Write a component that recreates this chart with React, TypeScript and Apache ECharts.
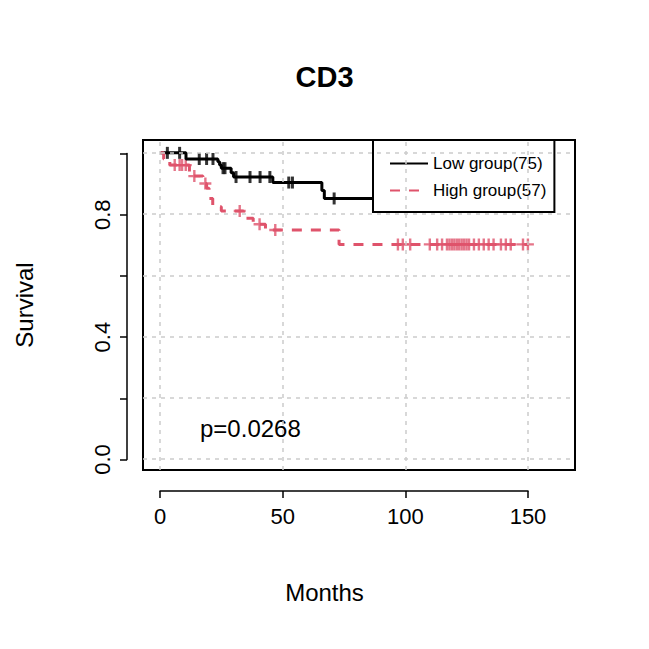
import React, { useEffect, useRef } from "react";
import * as echarts from "echarts";

// step points: [months, survival after the drop]
const lowSteps: number[][] = [
  [0, 1], [10.6, 0.98], [23.6, 0.971], [24.3, 0.96], [25, 0.95], [29, 0.935],
  [30, 0.921], [46, 0.903], [66, 0.877], [67, 0.851], [150, 0.851],
];
const highSteps: number[][] = [
  [0, 1], [1.5, 0.98], [4, 0.96], [12, 0.935], [13.5, 0.924], [17.5, 0.9],
  [19, 0.884], [20, 0.851], [21.5, 0.824], [25, 0.81], [34, 0.786],
  [38, 0.767], [43, 0.748], [73, 0.701], [150, 0.701],
];
const lowCensor = [3, 8, 16, 19, 21.6, 25.7, 26.5, 31, 36.7, 40.8, 44.8, 52.5, 54, 71];
const highCensor = [
  6, 8, 9, 10.5, 14, 18.5, 32.5, 40.6, 47, 97, 99, 102, 110, 113, 115, 117, 118, 119,
  120, 121, 122, 123, 124, 125, 126, 128, 130, 132, 134, 136, 139, 141, 143, 148, 150,
];
const xTicks = [0, 50, 100, 150];
const yLabels = ["0.0", "0.4", "0.8"];

const survAt = (steps: number[][], t: number) => {
  let s = steps[0][1];
  for (const [x, y] of steps) if (x <= t) s = y;
  return s;
};

const FONT = "Liberation Sans, Arial, sans-serif";
const PLUS = "path://M-1,-5h2v4h4v2h-4v4h-2v-4h-4v-2h4z";
const BAR = "path://M-1.2,-5h2.4v10h-2.4z";

const App: React.FC = () => {
  const ref = useRef<HTMLDivElement | null>(null);

  useEffect(() => {
    if (!ref.current) return;
    const chart = echarts.init(ref.current, null, { renderer: "svg" });
    const dash = { type: [4, 5] as number[], color: "#cccccc", width: 1.5 };
    chart.setOption({
      animation: false,
      backgroundColor: "#ffffff",
      title: {
        text: "CD3", left: "center", top: 57,
        textStyle: { fontFamily: FONT, fontSize: 29, fontWeight: "bold", color: "#000" },
      },
      legend: {
        left: 373, top: 140, orient: "vertical", itemGap: 10,
        padding: [15, 8, 13, 16], itemWidth: 38, itemHeight: 14,
        borderColor: "#000", borderWidth: 2, backgroundColor: "#fff",
        itemStyle: { opacity: 0 },
        textStyle: { fontFamily: FONT, fontSize: 17, color: "#000" },
        data: ["Low group(75)", "High group(57)"],
      },
      grid: [
        { left: 143, top: 140, width: 432, height: 330, show: true, borderColor: "#000", borderWidth: 2 },
        { left: 160, top: 490, width: 368, height: 1 },
        { left: 127, top: 153.5, width: 1, height: 306 },
      ],
      xAxis: [
        {
          gridIndex: 0, type: "value", min: -6.93, max: 169.2,
          axisLine: { show: false }, axisTick: { show: false }, axisLabel: { show: false },
          splitLine: { show: false },
        },
        {
          gridIndex: 1, type: "value", min: 0, max: 150, interval: 50,
          axisLine: { lineStyle: { color: "#000", width: 1.5 } },
          axisTick: { length: 7, lineStyle: { color: "#000", width: 1.5 } },
          axisLabel: { fontFamily: FONT, fontSize: 22, color: "#000", margin: 14,
            formatter: (v: number) => (xTicks.includes(v) ? String(v) : "") },
          splitLine: { show: false },
        },
        { gridIndex: 2, type: "value", show: false },
      ],
      yAxis: [
        {
          gridIndex: 0, type: "value", min: -0.036, max: 1.042,
          axisLine: { show: false }, axisTick: { show: false }, axisLabel: { show: false },
          splitLine: { show: false },
        },
        { gridIndex: 1, type: "value", show: false },
        {
          gridIndex: 2, type: "value", min: 0, max: 1, interval: 0.2,
          axisLine: { show: true, lineStyle: { color: "#000", width: 1.5 } },
          axisTick: { show: true, length: 7, lineStyle: { color: "#000", width: 1.5 } },
          axisLabel: { fontFamily: FONT, fontSize: 22, color: "#000", rotate: 90, margin: 14,
            formatter: (v: number) => { const s = v.toFixed(1); return yLabels.includes(s) ? s : ""; } },
          splitLine: { show: false },
        },
      ],
      graphic: [
        { type: "text", left: "center", top: 580, style: { text: "Months", font: `24px ${FONT}`, fill: "#000" } },
        { type: "text", x: 24, y: 305, rotation: Math.PI / 2, style: { text: "Survival", font: `24px ${FONT}`, fill: "#000", align: "center", verticalAlign: "middle" } },
        { type: "text", x: 200, y: 416, style: { text: "p=0.0268", font: `24px ${FONT}`, fill: "#000" } },
      ],
      series: [
        {
          type: "line", xAxisIndex: 0, yAxisIndex: 0, silent: true, symbol: "none",
          data: [],
          markLine: {
            silent: true, symbol: "none", label: { show: false }, lineStyle: dash,
            data: [
              ...xTicks.map((x) => ({ xAxis: x })),
              ...[0, 0.2, 0.4, 0.6, 0.8, 1].map((y) => ({ yAxis: y })),
            ],
          },
        },
        {
          name: "Low group(75)", type: "line", step: "end", symbol: "none",
          xAxisIndex: 0, yAxisIndex: 0, color: "#000",
          lineStyle: { color: "#000", width: 3 }, data: lowSteps,
        },
        {
          name: "High group(57)", type: "line", step: "end", symbol: "none",
          xAxisIndex: 0, yAxisIndex: 0, color: "#df536b",
          lineStyle: { color: "#df536b", width: 3, type: [10, 9] }, data: highSteps,
        },
        {
          type: "scatter", xAxisIndex: 0, yAxisIndex: 0, symbol: BAR, symbolSize: [3, 12],
          itemStyle: { color: "#000" },
          data: lowCensor.map((t) => [t, survAt(lowSteps, t)]),
        },
        {
          type: "scatter", xAxisIndex: 0, yAxisIndex: 0, symbol: PLUS, symbolSize: 12,
          itemStyle: { color: "#df536b" },
          data: highCensor.map((t) => [t, survAt(highSteps, t)]),
        },
      ],
    });
    return () => chart.dispose();
  }, []);

  return <div ref={ref} style={{ position: "fixed", left: 0, top: 0, width: 649, height: 649 }} />;
};

export default App;
